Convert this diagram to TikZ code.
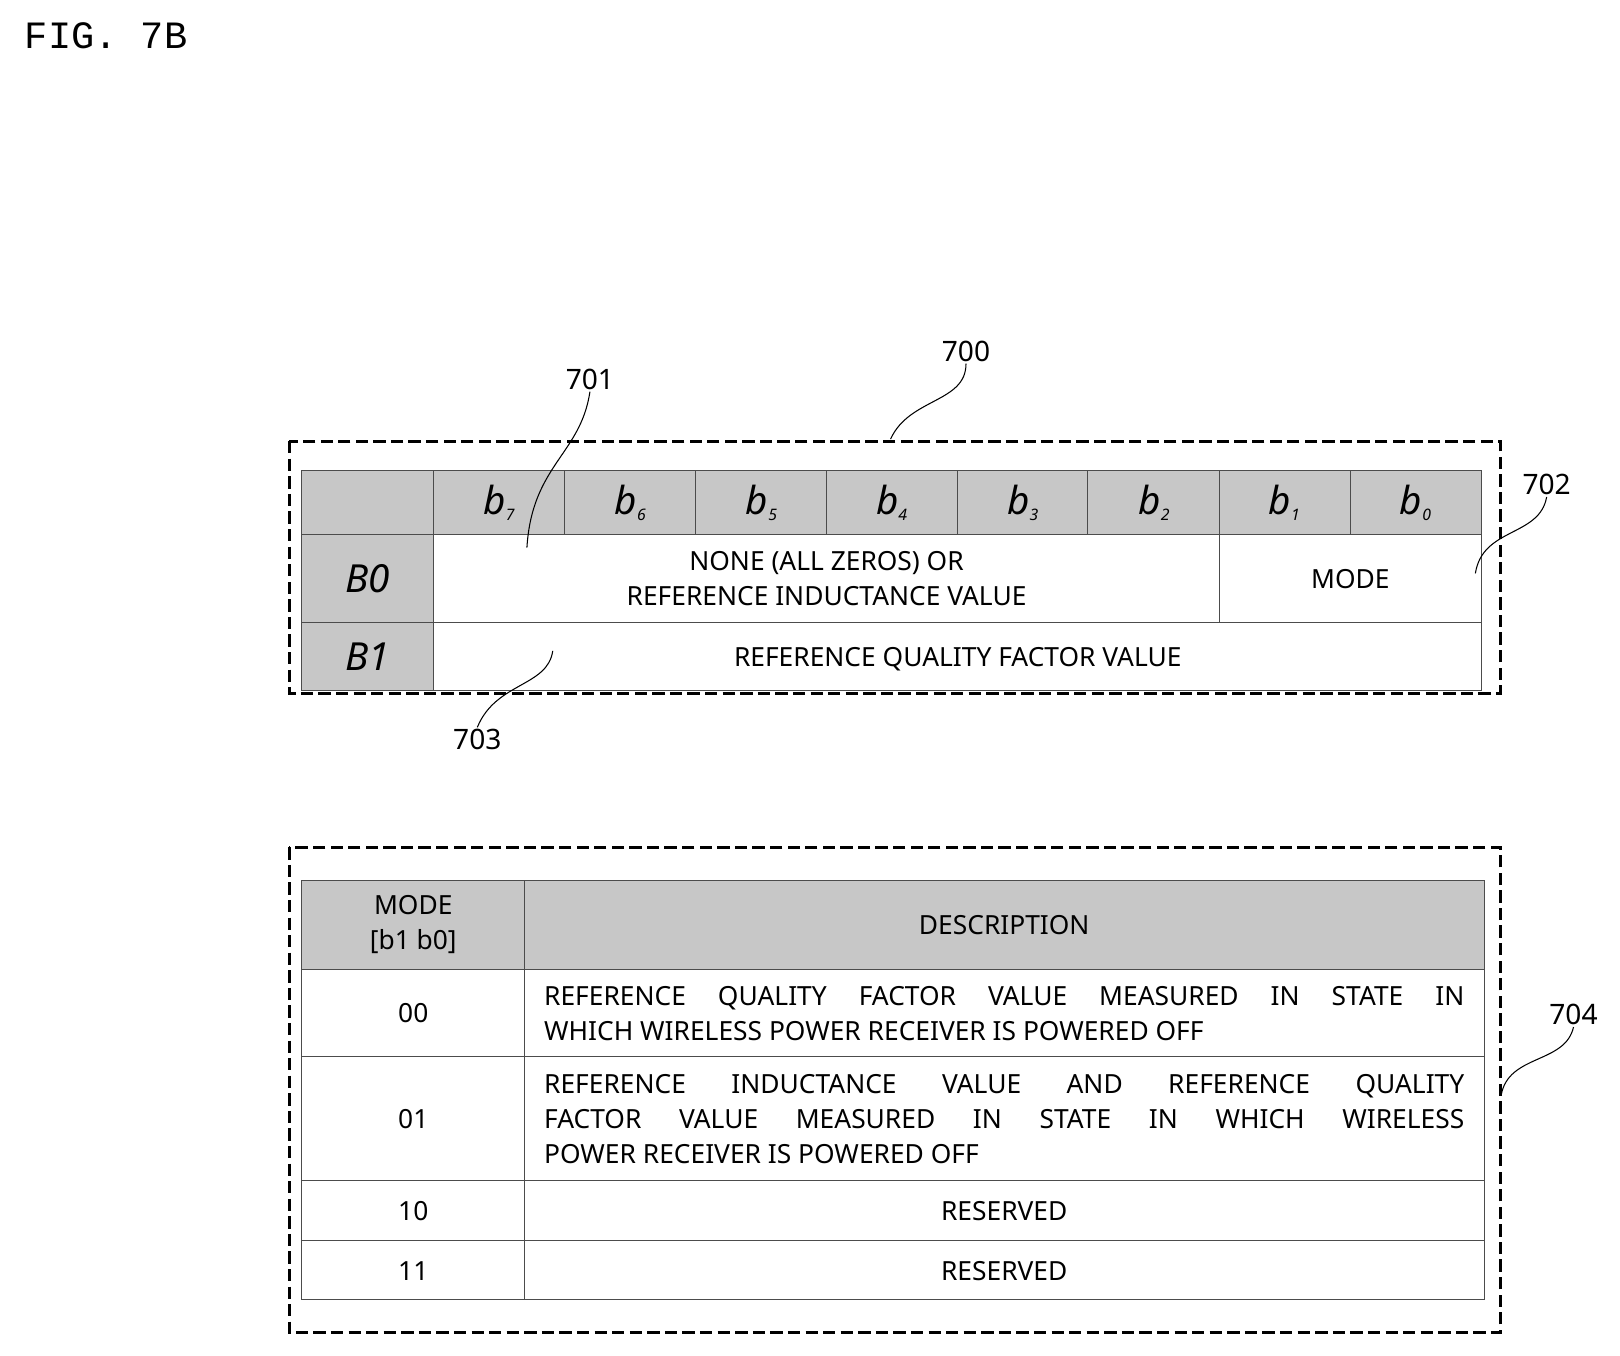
\documentclass[tikz,border=0pt]{standalone}
\usepackage{fontspec}
\setmainfont{Noto Sans}
\setmonofont{Liberation Mono}
\usetikzlibrary{positioning}
\newcommand{\jline}[1]{\makebox[18.4cm][s]{#1}}
\newcommand{\bitlab}[1]{{\bfseries\itshape b\raisebox{-0.3ex}{\small #1}}}
\begin{document}
\begin{tikzpicture}[x=0.02066cm, y=-0.02066cm,
    cell/.style={draw=black!70, line width=0.5pt},
    head/.style={cell, fill=black!22},
    outer/.style={draw, dashed, line width=1.6pt, dash pattern=on 7pt off 3pt},
    txt/.style={font=\fontsize{15}{20}\selectfont, align=center, inner sep=0pt},
    bit/.style={font=\fontsize{22}{24}\selectfont, inner sep=0pt},
    num/.style={font=\fontsize{16}{18}\selectfont, inner sep=1pt},
    lead/.style={draw, line width=0.6pt}
]
\useasboundingbox (0,0) rectangle (1568,1312);

\node[font=\ttfamily\fontsize{22}{24}\selectfont, anchor=west] (fig) at (18,35) {FIG. 7B};

% upper frame
\draw[outer] (280,427) rectangle (1452,671);
\fill[black!22] (292,455) rectangle (1434,517);
\fill[black!22] (292,517) rectangle (420,668);
\draw[cell] (292,455) rectangle (1434,668);
\foreach \y in {517,602} \draw[cell] (292,\y) -- (1434,\y);
\draw[cell] (420,455) -- (420,668);
\foreach \x in {546,673,800,927,1053,1180,1307} \draw[cell] (\x,455) -- (\x,517);
\draw[cell] (1180,517) -- (1180,602);

% bit labels
\foreach \x/\b in {483/7,610/6,737/5,863/4,990/3,1117/2,1243/1,1370/0} {
    \node[bit] (bit\b) at (\x,487) {\bitlab{\b}};
}
\node[bit] (byte0) at (356,560) {\bfseries\itshape B0};
\node[bit] (byte1) at (356,636) {\bfseries\itshape B1};

\node[txt] (none) at (800,560) {NONE (ALL ZEROS) OR\\REFERENCE INDUCTANCE VALUE};
\node[txt] (mode) at (1307,560) {MODE};
\node[txt] (refq) at (927,638) {REFERENCE QUALITY FACTOR VALUE};

% reference numerals
\node[num] (n700) at (935,340) {700};
\node[num] (n701) at (571,367) {701};
\node[num] (n702) at (1497,469) {702};
\node[num] (n703) at (462,716) {703};
\node[num] (n704) at (1523,982) {704};
\coordinate (e700) at (862,425);
\coordinate (e701) at (510,530);
\coordinate (e702) at (1428,555);
\coordinate (e703) at (535,630);
\coordinate (e704) at (1453,1060);
\draw[lead] (n700.south) .. controls (935,390) and (880,385) .. (e700);
\draw[lead] (n701.south) .. controls (562,440) and (515,450) .. (e701);
\draw[lead] (n702.south) .. controls (1490,520) and (1435,510) .. (e702);
\draw[lead] (n703.north) .. controls (480,660) and (530,665) .. (e703);
\draw[lead] (n704.south) .. controls (1515,1030) and (1460,1020) .. (e704);

% lower frame
\draw[outer] (280,820) rectangle (1452,1290);
\fill[black!22] (292,852) rectangle (1437,938);
\draw[cell] (292,852) rectangle (1437,1258);
\foreach \y in {938,1023,1143,1201} \draw[cell] (292,\y) -- (1437,\y);
\draw[cell] (508,852) -- (508,1258);

\node[txt] (mhead) at (400,895) {MODE\\{}[b1 b0]};
\node[txt] (dhead) at (972,895) {DESCRIPTION};
\node[txt] (m00) at (400,981) {00};
\node[txt] (m01) at (400,1083) {01};
\node[txt] (m10) at (400,1172) {10};
\node[txt] (m11) at (400,1230) {11};
\node[txt, align=left] (d00) at (972,981) {\jline{REFERENCE QUALITY FACTOR VALUE MEASURED IN STATE IN}\\WHICH WIRELESS POWER RECEIVER IS POWERED OFF};
\node[txt, align=left] (d01) at (972,1083) {\jline{REFERENCE INDUCTANCE VALUE AND REFERENCE QUALITY}\\\jline{FACTOR VALUE MEASURED IN STATE IN WHICH WIRELESS}\\POWER RECEIVER IS POWERED OFF};
\node[txt] (d10) at (972,1172) {RESERVED};
\node[txt] (d11) at (972,1230) {RESERVED};
\end{tikzpicture}
\end{document}
